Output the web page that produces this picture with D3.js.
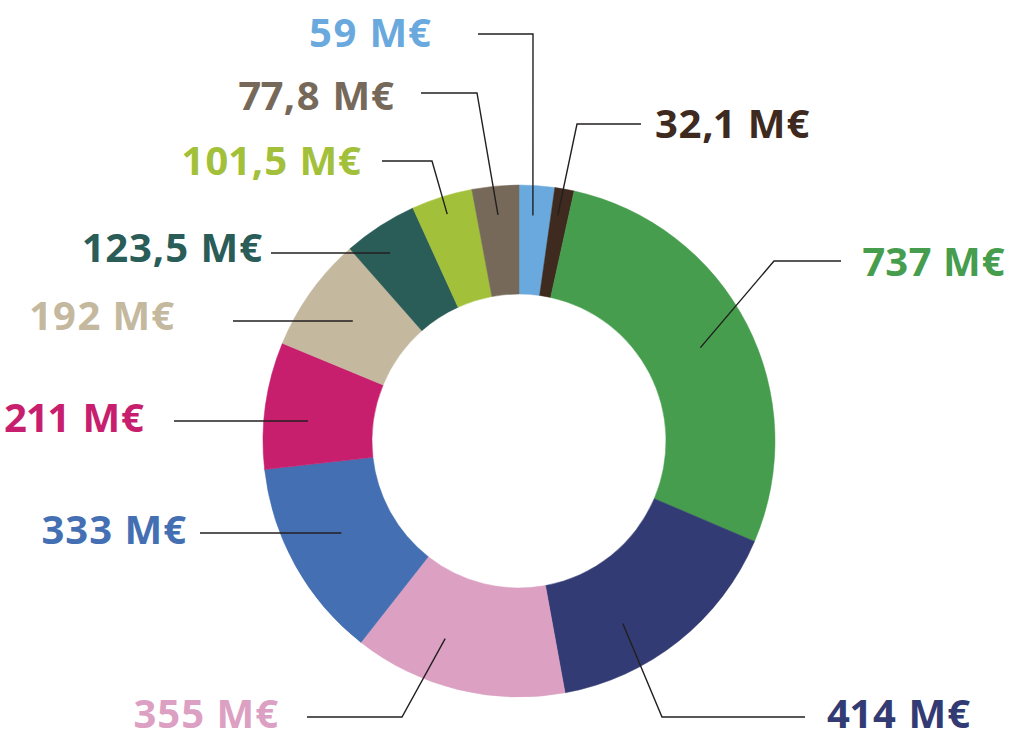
<!DOCTYPE html>
<html>
<head>
<meta charset="utf-8">
<script src="https://cdn.jsdelivr.net/npm/d3@7"></script>
<style>
  body { margin: 0; background: #fff; }
  .lbl { font-family: "Open Sans", sans-serif; font-weight: 700; font-size: 40px; letter-spacing: 1px;
         font-variant-numeric: proportional-nums; }
  .leader { fill: none; stroke: #231f20; stroke-width: 1.4px; }
</style>
</head>
<body>
<svg id="chart"></svg>
<script>
// slices, clockwise from 12 o'clock
var categories = ["a", "b", "c", "d", "e", "f", "g", "h", "i", "j", "k"];
var values = [59, 32.1, 737, 414, 355, 333, 211, 192, 123.5, 101.5, 77.8];
var colors = ["#6aa9dd", "#3e2a1e", "#459d4d", "#323b73", "#dca0c3", "#4470b3",
              "#c71f6e", "#c4b89e", "#2a5c58", "#a2c03a", "#76695a"];

var width = 1013, height = 739;
var cx = 519, cy = 441, outerR = 256, innerR = 147;

// label placement: text pos, line start, elbow x (null = straight), anchor radius, angle nudge (deg)
var layout = [
  {tx: 432, ty: 47,  a: "end",   lx: 478, ly: 34,  ex: 533,  r: 226, da: -0.5},
  {tx: 655, ty: 138, a: "start", lx: 641, ly: 124, ex: 577,  r: 229, da: -0.5},
  {tx: 863, ty: 276, a: "start", lx: 841, ly: 261, ex: 774,  r: 204, da: 0},
  {tx: 827, ty: 728, a: "start", lx: 805, ly: 717, ex: 662,  r: 210, da: 9},
  {tx: 279, ty: 728, a: "end",   lx: 307, ly: 717, ex: 402,  r: 211, da: 6.6},
  {tx: 187, ty: 544, a: "end",   lx: 200, ly: 533, ex: null, r: 200},
  {tx: 145, ty: 432, a: "end",   lx: 174, ly: 421, ex: null, r: 212},
  {tx: 175, ty: 330, a: "end",   lx: 233, ly: 321, ex: null, r: 205},
  {tx: 263, ty: 262, a: "end",   lx: 271, ly: 253, ex: null, r: 228},
  {tx: 362, ty: 175, a: "end",   lx: 382, ly: 161, ex: 432,  r: 238, da: 0},
  {tx: 395, ty: 110, a: "end",   lx: 421, ly: 93,  ex: 477,  r: 227, da: 0}
];

var locale = d3.formatLocale({decimal: ",", thousands: " ", grouping: [3], currency: ["", ""]});
var fmt = locale.format("~f");

var svg = d3.select("#chart").attr("width", width).attr("height", height);

var color = d3.scaleOrdinal().domain(categories).range(colors);

var pie = d3.pie().sort(null).value(function(d, i) { return values[i]; });
var arcs = pie(categories);

var arc = d3.arc().innerRadius(innerR).outerRadius(outerR);

var g = svg.append("g").attr("transform", "translate(" + cx + "," + cy + ")");

g.selectAll("path.slice")
  .data(arcs)
  .enter().append("path")
    .attr("class", "slice")
    .attr("d", arc)
    .attr("fill", function(d) { return color(d.data); })
    .attr("stroke", function(d) { return color(d.data); })
    .attr("stroke-width", 0.5);

// leader lines
var line = d3.line();
svg.selectAll("path.leader")
  .data(arcs)
  .enter().append("path")
    .attr("class", "leader")
    .attr("d", function(d, i) {
      var L = layout[i];
      var pts;
      if (L.ex === null) {
        var dy = L.ly - cy;
        var dx = Math.sqrt(L.r * L.r - dy * dy);
        var ax = L.a === "end" ? cx - dx : cx + dx;
        pts = [[L.lx, L.ly], [ax, L.ly]];
      } else {
        var ang = (d.startAngle + d.endAngle) / 2 + L.da * Math.PI / 180;
        var px = cx + L.r * Math.sin(ang), py = cy - L.r * Math.cos(ang);
        pts = [[L.lx, L.ly], [L.ex, L.ly], [px, py]];
      }
      return line(pts);
    });

// value labels
svg.selectAll("text.lbl")
  .data(arcs)
  .enter().append("text")
    .attr("class", "lbl")
    .attr("x", function(d, i) { return layout[i].tx; })
    .attr("y", function(d, i) { return layout[i].ty; })
    .attr("text-anchor", function(d, i) { return layout[i].a; })
    .attr("fill", function(d) { return color(d.data); })
    .text(function(d, i) { return fmt(values[i]) + " M€"; });
</script>
</body>
</html>
